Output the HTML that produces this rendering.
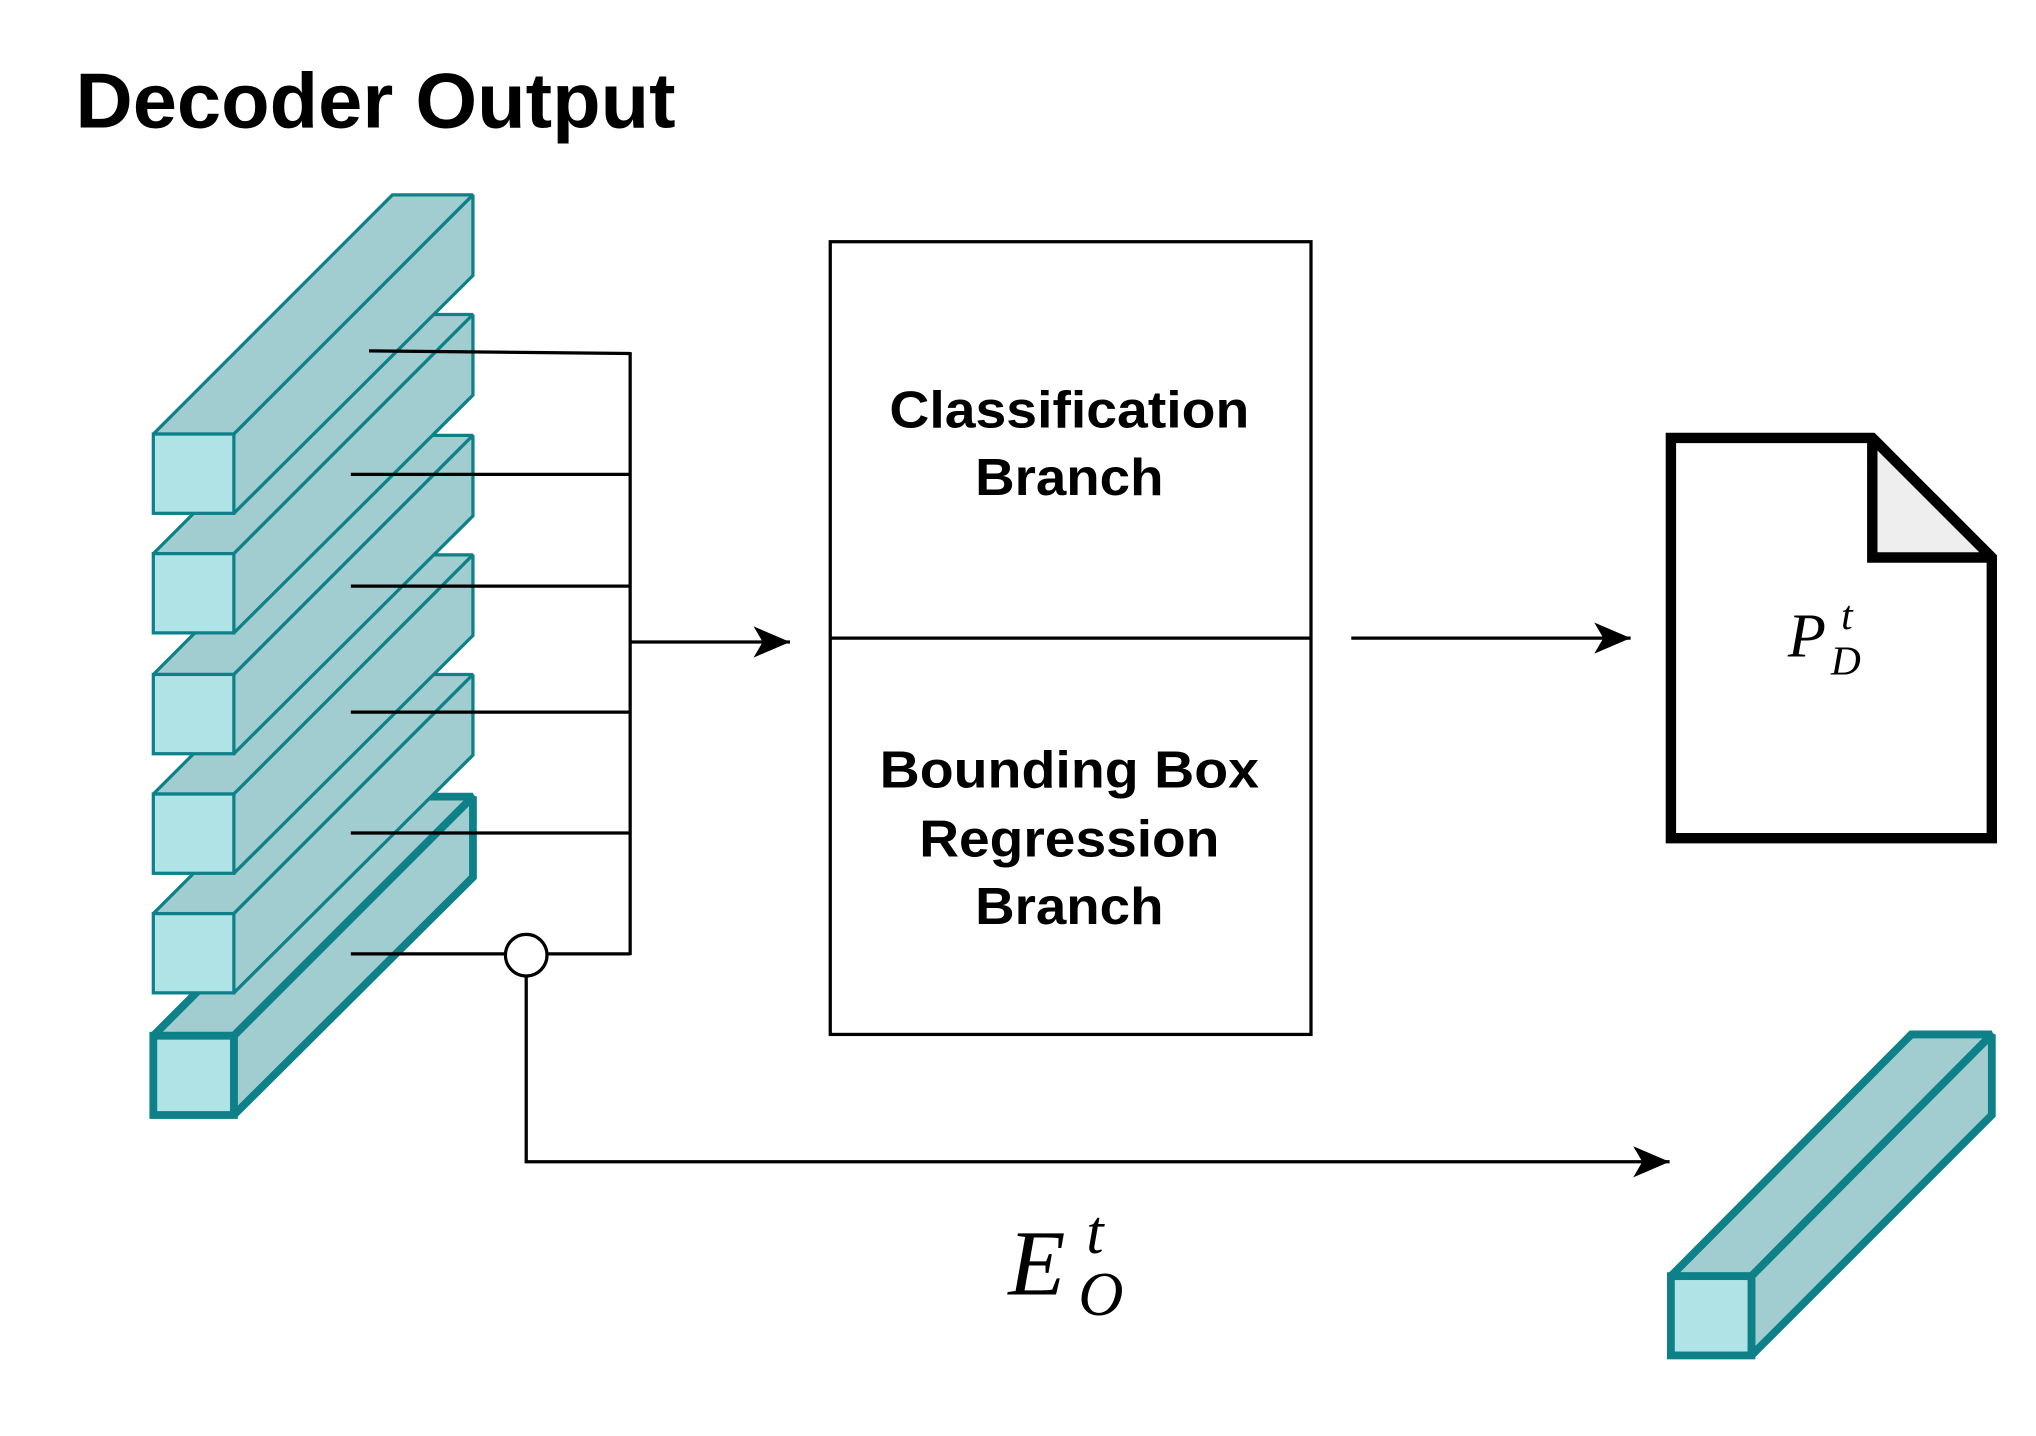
<!DOCTYPE html>
<html><head><meta charset="utf-8"><style>
html,body{margin:0;padding:0;background:#fff;}
svg{display:block;}
</style></head><body>
<svg width="2036" height="1436" viewBox="0 0 1567 1105" preserveAspectRatio="none" xmlns="http://www.w3.org/2000/svg">
<defs>
<marker id="ah" markerWidth="30" markerHeight="24" refX="28" refY="12" orient="auto" markerUnits="userSpaceOnUse">
<path d="M0,0 L28,12 L0,24 L7,12 Z" fill="#000"/>
</marker>
</defs>
<rect width="1567" height="1105" fill="#fff"/>
<text x="58" y="98" font-family="Liberation Sans, sans-serif" font-weight="bold" font-size="60" textLength="462" lengthAdjust="spacingAndGlyphs">Decoder Output</text>

<g stroke="#0e8088" stroke-width="6" stroke-miterlimit="2">
<polygon points="118,797 180,797 364,613 302,613" fill="#a2cdd0"/>
<polygon points="180,797 364,613 364,675 180,858" fill="#a2cdd0"/>
<rect x="118" y="797" width="62" height="61" fill="#b0e3e6"/>
</g>
<g stroke="#0e8088" stroke-width="2.5" stroke-miterlimit="2">
<g transform="translate(0,369)">
<polygon points="118,334 180,334 364,150 302,150" fill="#a2cdd0"/>
<polygon points="180,334 364,150 364,212 180,395" fill="#a2cdd0"/>
<rect x="118" y="334" width="62" height="61" fill="#b0e3e6"/>
</g>
<g transform="translate(0,277)">
<polygon points="118,334 180,334 364,150 302,150" fill="#a2cdd0"/>
<polygon points="180,334 364,150 364,212 180,395" fill="#a2cdd0"/>
<rect x="118" y="334" width="62" height="61" fill="#b0e3e6"/>
</g>
<g transform="translate(0,185)">
<polygon points="118,334 180,334 364,150 302,150" fill="#a2cdd0"/>
<polygon points="180,334 364,150 364,212 180,395" fill="#a2cdd0"/>
<rect x="118" y="334" width="62" height="61" fill="#b0e3e6"/>
</g>
<g transform="translate(0,92)">
<polygon points="118,334 180,334 364,150 302,150" fill="#a2cdd0"/>
<polygon points="180,334 364,150 364,212 180,395" fill="#a2cdd0"/>
<rect x="118" y="334" width="62" height="61" fill="#b0e3e6"/>
</g>
<g>
<polygon points="118,334 180,334 364,150 302,150" fill="#a2cdd0"/>
<polygon points="180,334 364,150 364,212 180,395" fill="#a2cdd0"/>
<rect x="118" y="334" width="62" height="61" fill="#b0e3e6"/>
</g>
</g>

<g stroke="#000" stroke-width="2.5" fill="none">
<polyline points="284,270 485,272"/>
<line x1="270" y1="365" x2="485" y2="365"/>
<line x1="270" y1="451" x2="485" y2="451"/>
<line x1="270" y1="548" x2="485" y2="548"/>
<line x1="270" y1="641" x2="485" y2="641"/>
<line x1="270" y1="734" x2="389" y2="734"/>
<line x1="421" y1="734" x2="485" y2="734"/>
<line x1="485" y1="271" x2="485" y2="735"/>
<line x1="485" y1="494" x2="608" y2="494" marker-end="url(#ah)"/>
<polyline points="405,750 405,894 1285,894" marker-end="url(#ah)"/>
<line x1="1040" y1="491" x2="1255" y2="491" marker-end="url(#ah)"/>
</g>
<circle cx="405" cy="735" r="16" fill="#fff" stroke="#000" stroke-width="2.5"/>

<rect x="639" y="186" width="370" height="610" fill="#fff" stroke="#000" stroke-width="2.5"/>
<line x1="639" y1="491" x2="1009" y2="491" stroke="#000" stroke-width="2.5"/>
<g font-family="Liberation Sans, sans-serif" font-weight="bold" font-size="40" text-anchor="middle">
<text x="823" y="329" textLength="277" lengthAdjust="spacingAndGlyphs">Classification</text>
<text x="823" y="381" textLength="145" lengthAdjust="spacingAndGlyphs">Branch</text>
<text x="823" y="606" textLength="292" lengthAdjust="spacingAndGlyphs">Bounding Box</text>
<text x="823" y="659" textLength="231" lengthAdjust="spacingAndGlyphs">Regression</text>
<text x="823" y="711" textLength="145" lengthAdjust="spacingAndGlyphs">Branch</text>
</g>

<polygon points="1286,337 1441,337 1533,429 1533,645 1286,645" fill="#fff" stroke="#000" stroke-width="8" stroke-miterlimit="2"/>
<polygon points="1441,337 1441,429 1533,429" fill="#eeeeee" stroke="#000" stroke-width="8" stroke-miterlimit="2"/>
<text x="1376" y="505" font-family="Liberation Serif, serif" font-style="italic" font-size="48">P</text>
<text x="1409" y="519" font-family="Liberation Serif, serif" font-style="italic" font-size="32">D</text>
<text x="1417" y="484" font-family="Liberation Serif, serif" font-style="italic" font-size="32">t</text>

<g stroke="#0e8088" stroke-width="6" stroke-miterlimit="2">
<polygon points="1286,982 1348,982 1533,796 1471,796" fill="#a2cdd0"/>
<polygon points="1348,982 1533,796 1533,858 1348,1043" fill="#a2cdd0"/>
<rect x="1286" y="982" width="62" height="61" fill="#b0e3e6"/>
</g>

<text x="776" y="996" font-family="Liberation Serif, serif" font-style="italic" font-size="72">E</text>
<text x="830" y="1012" font-family="Liberation Serif, serif" font-style="italic" font-size="48">O</text>
<text x="836" y="964" font-family="Liberation Serif, serif" font-style="italic" font-size="48">t</text>
</svg>
</body></html>
